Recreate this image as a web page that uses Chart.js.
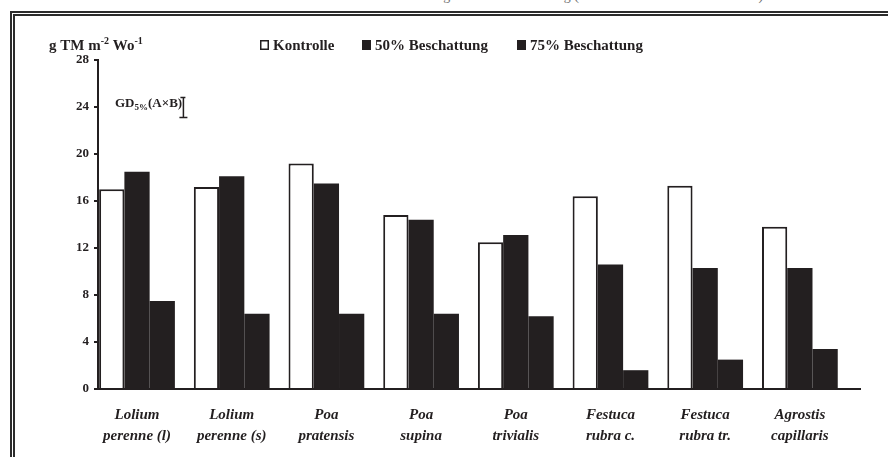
<!DOCTYPE html>
<html lang="de">
<head>
<meta charset="utf-8">
<title>Trockenmassezuwachs bei Beschattung</title>
<script src="https://cdn.jsdelivr.net/npm/chart.js@4.4.1/dist/chart.umd.min.js"></script>
<style>
  html, body { margin: 0; padding: 0; background: #fff; }
  #wrap { position: relative; width: 888px; height: 457px; overflow: hidden; background: #fff; }
  #caption {
    position: absolute; left: 0; top: -12px; width: 888px; text-align: center;
    font: 14px "Liberation Serif", serif; line-height: 16px; color: #6f6f6f; white-space: nowrap;
  }
  #frame {
    position: absolute; left: 10px; top: 11px; right: -20px; bottom: -20px;
    border-left: 5px double #2b2b2b; border-top: 5px double #2b2b2b; pointer-events: none;
  }
  canvas { position: absolute; left: 0; top: 0; }
</style>
</head>
<body>
<div id="wrap">
  <div id="caption">Abb. 3: Wöchentlicher Trockenmassezuwachs der Rasengräser bei Beschattung (Mittelwerte aller Schnitttermine)</div>
  <canvas id="chart" width="888" height="457"></canvas>
  <div id="frame"></div>
</div>
<script>
// Grasarten (Gattung / Art)
const categories = [
  "Lolium perenne (l)", "Lolium perenne (s)", "Poa pratensis", "Poa supina",
  "Poa trivialis", "Festuca rubra c.", "Festuca rubra tr.", "Agrostis capillaris"
];
// Zuwachs in g TM m-2 Wo-1
const kontrolle      = [17.0, 17.2, 19.2, 14.8, 12.5, 16.4, 17.3, 13.8];
const beschattung50  = [18.5, 18.1, 17.5, 14.4, 13.1, 10.6, 10.3, 10.3];
const beschattung75  = [7.5, 6.4, 6.4, 6.4, 6.2, 1.6, 2.5, 3.4];
const seriesNames    = ["Kontrolle", "50% Beschattung", "75% Beschattung"];
const yTicks         = [0, 4, 8, 12, 16, 20, 24, 28];
// Grenzdifferenz GD 5% (A x B), als Spanne auf der y-Achse
const gdRange        = [23.1, 24.8];

const INK = "#231f20";
const SERIF = "'Liberation Serif', 'DejaVu Serif', serif";

const toPoints = arr => arr.map((v, i) => ({ x: i, y: v }));

// Legende, Achsentitel und GD-Markierung
const decorations = {
  id: "decorations",
  afterDraw(chart) {
    const ctx = chart.ctx;
    const xs = chart.scales.x, ys = chart.scales.y;
    ctx.save();
    ctx.fillStyle = INK;
    ctx.strokeStyle = INK;
    ctx.textBaseline = "alphabetic";

    // y-Achsentitel: g TM m-2 Wo-1
    let x = 49, base = 50;
    const part = (t, size, dy) => {
      ctx.font = "bold " + size + "px " + SERIF;
      ctx.fillText(t, x, base + dy);
      x += ctx.measureText(t).width;
    };
    part("g TM m", 15, 0);
    part("-2", 10, -6);
    part(" Wo", 15, 0);
    part("-1", 10, -6);

    // Legende
    const starts = [260, 362, 517];
    chart.data.datasets.forEach((ds, i) => {
      const lx = starts[i];
      ctx.lineWidth = 1.5;
      if (ds.backgroundColor === "#ffffff") {
        ctx.fillStyle = "#fff";
        ctx.fillRect(lx, 40, 9, 10);
        ctx.strokeRect(lx + 0.75, 40.75, 7.5, 8.5);
      } else {
        ctx.fillStyle = INK;
        ctx.fillRect(lx, 40, 9, 10);
      }
      ctx.fillStyle = INK;
      ctx.font = "bold 15px " + SERIF;
      ctx.fillText(ds.label, lx + 13, 50);
    });

    // GD 5% (A x B)
    const gx = xs.getPixelForValue(0.49);
    const gTop = ys.getPixelForValue(gdRange[1]);
    const gBot = ys.getPixelForValue(gdRange[0]);
    x = 115; base = 107;
    part("GD", 13, 0);
    part("5%", 9, 3);
    part("(A\u00d7B)", 13, 0);
    ctx.lineWidth = 1.5;
    ctx.beginPath();
    ctx.moveTo(gx - 3, gTop); ctx.lineTo(gx + 2, gTop);
    ctx.moveTo(gx, gTop); ctx.lineTo(gx, gBot);
    ctx.moveTo(gx - 4, gBot); ctx.lineTo(gx + 4, gBot);
    ctx.stroke();
    ctx.restore();
  }
};

new Chart(document.getElementById("chart"), {
  type: "bar",
  data: {
    datasets: [
      { label: seriesNames[0], data: toPoints(kontrolle), backgroundColor: "#ffffff",
        borderColor: INK, borderWidth: 2 },
      { label: seriesNames[1], data: toPoints(beschattung50), backgroundColor: INK, borderWidth: 0 },
      { label: seriesNames[2], data: toPoints(beschattung75), backgroundColor: INK, borderWidth: 0 }
    ]
  },
  options: {
    responsive: false,
    animation: false,
    events: [],
    categoryPercentage: 0.8,
    barPercentage: 1.0,
    layout: { padding: { top: 60, right: 28, bottom: 0, left: 0 } },
    plugins: { legend: { display: false }, tooltip: { enabled: false }, title: { display: false } },
    scales: {
      x: {
        type: "linear",
        offset: false,
        min: -0.412,
        max: 7.635,
        afterBuildTicks: axis => { axis.ticks = categories.map((c, i) => ({ value: i })); },
        afterFit: axis => { axis.height = 68; },
        grid: { display: false },
        border: { display: true, color: INK, width: 2 },
        ticks: {
          autoSkip: false, maxRotation: 0, padding: 8, color: INK,
          font: { family: SERIF, size: 15, weight: "bold", style: "italic", lineHeight: 1.4 },
          callback: v => {
            const name = categories[v];
            if (name === undefined) return "";
            const k = name.indexOf(" ");
            return [name.slice(0, k), name.slice(k + 1)];
          }
        }
      },
      y: {
        min: 0, max: 28,
        afterBuildTicks: axis => { axis.ticks = yTicks.map(v => ({ value: v })); },
        afterFit: axis => { axis.width = 98; },
        grid: { display: true, drawOnChartArea: false, drawTicks: true, tickLength: 4, color: INK, lineWidth: 2 },
        border: { display: true, color: INK, width: 2 },
        ticks: { color: INK, padding: 5, font: { family: SERIF, size: 13, weight: "bold" } }
      }
    }
  },
  plugins: [decorations]
});
</script>
</body>
</html>
